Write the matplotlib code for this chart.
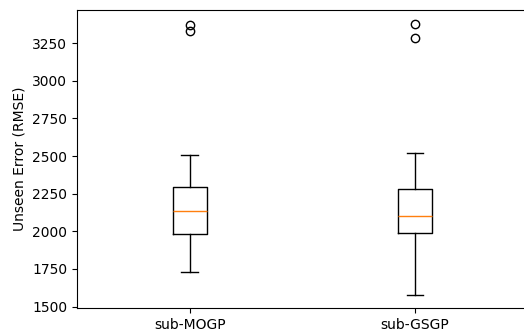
import matplotlib
matplotlib.use("Agg")
import matplotlib.pyplot as plt

labels = ["sub-MOGP", "sub-GSGP"]
whisker_low = [1730, 1580]
q1 = [1984, 1986]
median = [2136, 2101]
q3 = [2297, 2282]
whisker_high = [2507, 2518]
outliers = [[3369, 3328], [3380, 3285]]

stats = [
    {"label": lab, "whislo": lo, "q1": a, "med": m, "q3": b, "whishi": hi, "fliers": fl}
    for lab, lo, a, m, b, hi, fl in zip(labels, whisker_low, q1, median, q3, whisker_high, outliers)
]

fig = plt.figure(figsize=(5.24, 3.36), dpi=100)
ax = fig.add_axes([0.147, 0.083, 0.86, 0.887])
ax.bxp(stats, positions=[1, 2])
ax.set_ylabel("Unseen Error (RMSE)")
ax.set_xlim(0.5, 2.5)
fig.savefig("out.png", dpi=100)
